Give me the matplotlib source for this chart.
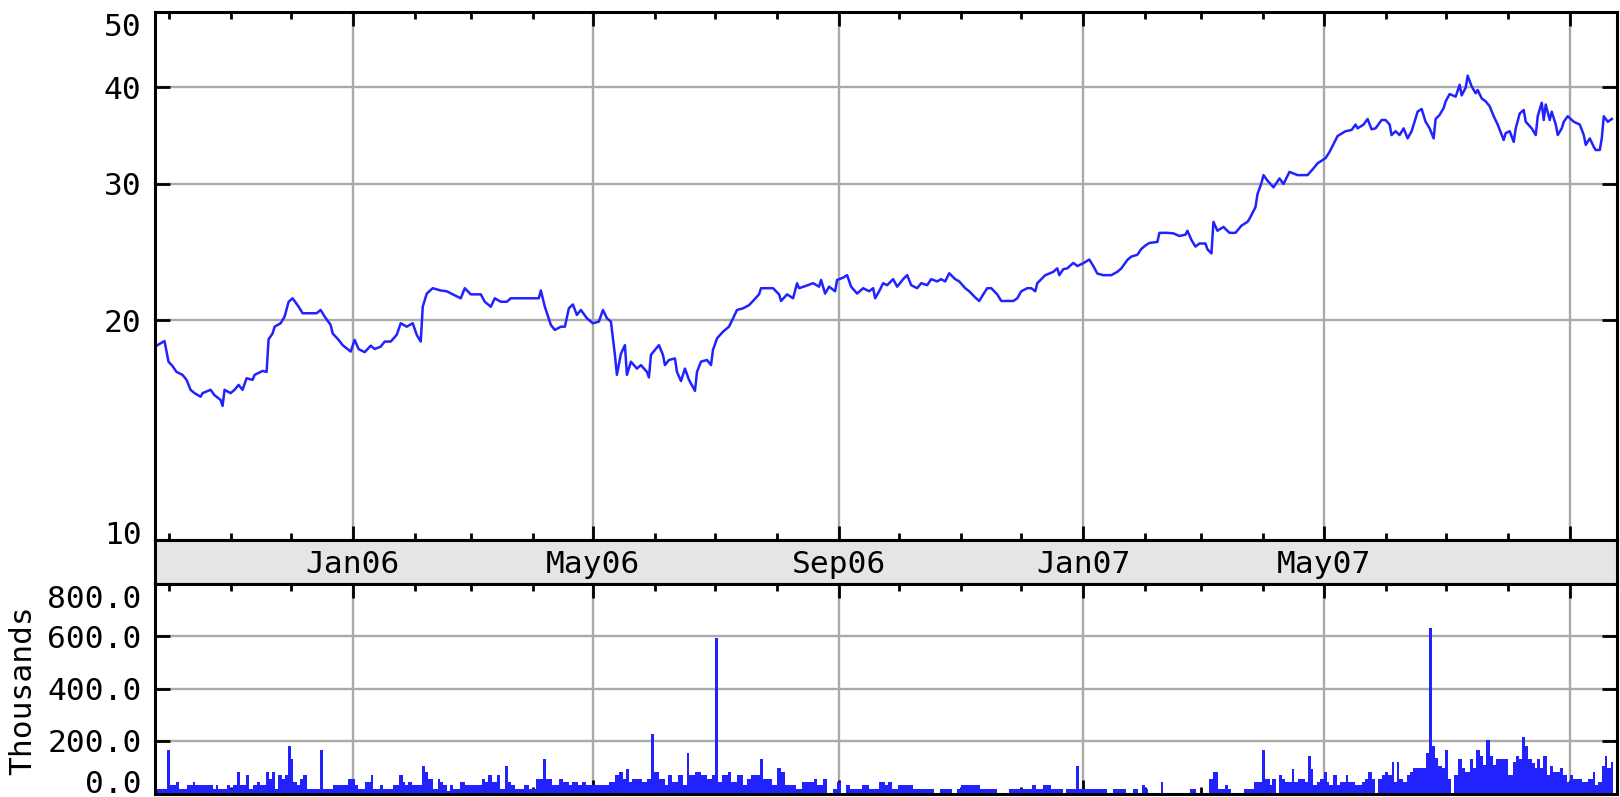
import numpy as np
import pandas as pd
import matplotlib
matplotlib.use('Agg')
import matplotlib.pyplot as plt
from matplotlib.ticker import NullLocator
from matplotlib.transforms import blended_transform_factory

plt.rcParams['font.family'] = ['DejaVu Sans Mono']

# price series: days counted from 2006-01-01
day = [-98, -94, -92, -90, -88, -85, -83, -81, -79, -76, -75, -71, -69, -66, -65, -64, -61, -59, -57, -55,
       -53, -50, -49, -45, -43, -42, -40, -39, -36, -34, -32, -30, -27, -25, -21, -18, -16, -14, -11, -10,
       -7, -5, -1, 1, 3, 6, 9, 11, 14, 16, 19, 22, 24, 27, 30, 32, 34, 35, 37, 40,
       44, 47, 50, 54, 56, 59, 64, 66, 69, 71, 74, 77, 79, 83, 93, 94, 96, 99, 101, 104,
       106, 108, 110, 112, 114, 117, 120, 123, 125, 127, 129, 131, 132, 134, 136, 137, 139, 142, 144, 147,
       148, 149, 151, 153, 155, 156, 158, 161, 162, 164, 166, 168, 171, 172, 174, 177, 179, 180, 182, 185,
       188, 190, 192, 195, 198, 200, 203, 204, 210, 213, 214, 217, 220, 222, 223, 227, 230, 233, 234, 236,
       238, 241, 242, 245, 247, 249, 252, 255, 258, 260, 261, 263, 265, 267, 270, 272, 275, 277, 279, 282,
       284, 287, 289, 292, 294, 296, 298, 301, 303, 306, 308, 311, 313, 315, 317, 319, 322, 324, 327, 330,
       332, 334, 337, 339, 341, 342, 344, 346, 348, 350, 352, 353, 355, 357, 360, 362, 365, 368, 370, 372,
       375, 379, 382, 384, 387, 389, 392, 394, 396, 398, 402, 403, 407, 410, 413, 416, 417, 419, 421, 423,
       426, 427, 429, 430, 432, 435, 438, 441, 444, 447, 448, 451, 452, 454, 455, 457, 459, 460, 463, 465,
       468, 472, 477, 480, 482, 486, 488, 490, 492, 496, 499, 501, 502, 505, 507, 509, 511, 514, 516, 518,
       519, 521, 523, 525, 527, 529, 531, 532, 534, 536, 538, 540, 541, 543, 545, 546, 548, 551, 553, 554,
       556, 557, 559, 561, 562, 564, 566, 568, 570, 572, 575, 576, 578, 580, 581, 583, 585, 586, 589, 591,
       592, 594, 595, 596, 598, 599, 601, 602, 604, 605, 607, 610, 613, 615, 616, 618, 620, 621, 623, 624,
       625, 627, 629]
price = [18.54, 18.80, 17.68, 17.45, 17.15, 17.00, 16.75, 16.26, 16.10, 15.93, 16.10, 16.26, 16.00, 15.78, 15.50, 16.26, 16.10, 16.26, 16.50, 16.26,
         16.83, 16.75, 17.00, 17.20, 17.15, 18.90, 19.23, 19.62, 19.82, 20.22, 21.13, 21.35, 20.82, 20.42, 20.42, 20.42, 20.62, 20.22, 19.72, 19.23,
         18.86, 18.57, 18.22, 18.86, 18.35, 18.19, 18.54, 18.36, 18.49, 18.77, 18.77, 19.15, 19.82, 19.62, 19.82, 19.15, 18.77, 20.82, 21.65, 22.00,
         21.85, 21.80, 21.60, 21.35, 22.00, 21.60, 21.60, 21.13, 20.82, 21.35, 21.13, 21.13, 21.35, 21.35, 21.35, 21.85, 20.82, 19.72, 19.43, 19.62,
         19.62, 20.72, 20.96, 20.32, 20.62, 20.12, 19.82, 19.92, 20.62, 20.12, 19.92, 18.04, 17.00, 18.10, 18.57, 17.00, 17.68, 17.32, 17.50, 17.15,
         16.87, 18.04, 18.31, 18.57, 18.04, 17.50, 17.77, 17.85, 17.15, 16.69, 17.32, 16.75, 16.21, 17.15, 17.68, 17.77, 17.50, 18.31, 18.95, 19.33,
         19.62, 20.12, 20.62, 20.72, 20.92, 21.18, 21.60, 22.00, 22.00, 21.60, 21.18, 21.60, 21.35, 22.33, 22.00, 22.18, 22.33, 22.10, 22.55, 21.65,
         22.10, 21.80, 22.55, 22.70, 22.87, 22.10, 21.65, 22.00, 21.80, 22.00, 21.35, 21.80, 22.33, 22.20, 22.60, 22.10, 22.60, 22.87, 22.20, 22.00,
         22.33, 22.20, 22.60, 22.45, 22.60, 22.45, 23.00, 22.60, 22.45, 22.00, 21.80, 21.40, 21.18, 21.60, 22.00, 22.00, 21.60, 21.18, 21.18, 21.18,
         21.35, 21.80, 22.00, 22.00, 21.80, 22.33, 22.60, 22.87, 22.98, 23.10, 23.34, 22.87, 23.28, 23.34, 23.72, 23.50, 23.70, 23.96, 23.50, 22.98,
         22.87, 22.87, 23.10, 23.34, 23.93, 24.17, 24.30, 24.73, 24.98, 25.17, 25.25, 25.94, 25.94, 25.90, 25.70, 25.80, 26.10, 25.40, 24.90, 25.13,
         25.13, 24.70, 24.40, 26.80, 26.10, 26.40, 25.94, 25.94, 26.50, 26.80, 27.05, 28.00, 29.10, 30.10, 30.80, 30.30, 29.90, 29.70, 30.50, 30.00,
         31.10, 30.80, 30.80, 31.43, 31.90, 32.40, 33.00, 33.80, 34.60, 35.10, 35.23, 35.80, 35.40, 35.80, 36.40, 35.30, 35.40, 36.29, 36.29, 35.80,
         34.70, 35.10, 34.70, 35.40, 34.36, 35.10, 36.50, 37.20, 37.50, 36.10, 35.40, 34.36, 36.40, 36.85, 37.60, 38.36, 39.20, 38.90, 40.30, 39.05,
         39.95, 41.40, 40.10, 39.30, 39.68, 38.70, 38.36, 37.80, 36.70, 35.80, 34.19, 34.90, 35.10, 34.00, 35.40, 37.00, 37.39, 36.10, 35.40, 34.70,
         36.70, 38.20, 36.29, 38.00, 36.29, 37.20, 35.80, 34.70, 35.40, 36.10, 36.70, 36.10, 35.80, 34.70, 33.70, 34.36, 33.50, 33.19, 33.19, 34.36,
         36.70, 36.10, 36.40]

# volume (thousands): each value holds from its start day to the next start day
vol_day = [-97.9, -92.6, -91.3, -88.3, -86.8, -82.9, -79.9, -78.8, -69.6, -68.3, -67.1, -62.9, -61.3, -59.6, -57.6, -56.3,
           -53.3, -51.6, -49.6, -48.0, -46.3, -43.3, -42.0, -40.5, -38.8, -37.2, -35.5, -33.8, -32.2, -31.0, -29.7, -28.0,
           -26.3, -24.7, -23.0, -16.3, -15.0, -9.7, -2.2, 1.1, 2.8, 6.1, 9.0, 10.3, 13.6, 15.3, 20.3, 23.3,
           25.0, 26.1, 27.8, 29.5, 34.6, 36.1, 37.8, 40.3, 42.5, 43.6, 45.3, 47.0, 48.6, 50.2, 53.6, 56.1,
           64.4, 66.1, 67.7, 69.4, 71.9, 73.6, 75.9, 77.4, 79.3, 81.2, 85.4, 87.9, 91.8, 95.0, 96.5, 99.4,
           103.2, 105.1, 108.0, 109.5, 112.8, 114.7, 116.6, 128.1, 130.9, 132.8, 134.8, 136.7, 138.0, 139.5, 144.3, 147.2,
           149.1, 150.4, 152.9, 155.8, 157.7, 159.6, 162.5, 164.9, 166.9, 168.2, 171.1, 173.9, 176.8, 179.7, 181.2, 182.5,
           184.5, 187.3, 189.2, 192.1, 195.0, 196.9, 198.8, 203.5, 205.1, 209.3, 212.2, 214.1, 216.0, 221.7, 224.6, 230.3,
           232.2, 235.1, 237.0, 239.9, 241.8, 243.7, 246.6, 248.5, 254.2, 258.0, 262.8, 265.7, 267.6, 269.5, 272.4, 280.0,
           290.6, 293.4, 299.2, 302.0, 304.0, 313.5, 322.1, 327.8, 339.3, 341.2, 345.0, 348.8, 354.6, 356.5, 361.3, 362.6,
           373.3, 376.6, 379.9, 386.3, 389.9, 392.4, 394.1, 395.8, 397.4, 403.7, 404.9, 418.2, 421.2, 427.9, 429.6, 432.4,
           435.7, 437.1, 438.6, 445.2, 450.2, 454.5, 455.8, 458.2, 459.5, 461.2, 462.7, 464.0, 465.7, 469.0, 470.3, 472.3,
           475.7, 477.3, 478.5, 479.8, 481.5, 483.2, 485.2, 486.5, 487.8, 489.8, 491.5, 493.2, 496.2, 497.3, 500.6, 504.0,
           505.6, 507.3, 509.0, 510.6, 512.0, 514.0, 515.6, 517.3, 519.0, 520.1, 521.5, 522.8, 524.8, 526.5, 528.1, 529.5,
           536.1, 537.8, 539.0, 540.6, 542.3, 544.0, 545.6, 547.3, 548.6, 550.1, 552.3, 554.0, 555.6, 558.1, 559.7, 561.4,
           563.1, 564.7, 566.4, 568.1, 569.7, 571.4, 577.2, 579.4, 581.1, 582.7, 583.9, 585.6, 587.2, 588.9, 590.6, 591.4,
           593.1, 594.7, 596.4, 598.1, 599.7, 603.1, 604.7, 606.4, 608.1, 609.7, 613.9, 617.2, 619.4, 620.6, 622.3, 624.0,
           625.6, 626.8, 628.5]
vol_end = 629.8
vol_k = [19, 165, 32, 45, 19, 32, 45, 32, 19, 32, 19, 32, 19, 32, 83, 32,
         70, 19, 32, 45, 32, 83, 57, 83, 19, 70, 57, 70, 181, 130, 45, 32,
         57, 70, 19, 165, 19, 32, 57, 32, 19, 45, 70, 19, 32, 19, 32, 70,
         45, 32, 45, 32, 104, 83, 57, 19, 57, 45, 32, 10, 32, 19, 45, 32,
         57, 45, 70, 45, 70, 19, 104, 45, 32, 19, 32, 19, 57, 130, 57, 32,
         57, 45, 32, 45, 32, 45, 32, 45, 70, 83, 57, 92, 45, 57, 45, 57,
         226, 83, 57, 32, 70, 45, 70, 32, 153, 70, 83, 70, 57, 70, 592, 45,
         70, 83, 45, 70, 32, 57, 70, 130, 57, 32, 96, 83, 32, 19, 45, 57,
         32, 57, 0, 19, 45, 0, 32, 19, 32, 19, 45, 32, 45, 19, 32, 19,
         0, 19, 0, 19, 32, 19, 0, 19, 32, 19, 32, 19, 0, 19, 104, 19,
         19, 0, 19, 0, 19, 0, 32, 19, 0, 45, 0, 19, 0, 57, 83, 19,
         32, 19, 0, 19, 45, 165, 57, 32, 57, 0, 70, 57, 45, 92, 45, 57,
         45, 143, 92, 32, 45, 57, 83, 45, 32, 70, 32, 45, 70, 45, 32, 45,
         57, 83, 57, 0, 57, 70, 83, 70, 121, 45, 121, 57, 45, 70, 83, 96,
         153, 629, 181, 134, 104, 96, 165, 57, 0, 70, 130, 96, 83, 130, 96, 165,
         143, 108, 203, 143, 108, 130, 70, 121, 143, 130, 214, 181, 130, 118, 96, 130,
         96, 143, 70, 104, 83, 96, 70, 45, 70, 57, 45, 57, 83, 32, 45, 104,
         143, 96, 121]

blue = '#2222ff'
gridcol = '#aaaaaa'
fs = 22.5

base = pd.Timestamp('2006-01-01')
months = pd.date_range('2005-10-01', '2007-09-01', freq='MS')
major = [m for m in months if m.month in (1, 5, 9)]
minor = [m for m in months if m.month not in (1, 5, 9)]
major_d = [(m - base).days for m in major]
minor_d = [(m - base).days for m in minor]
major_lab = [m.strftime('%b%y') for m in major[:-1]]

W, H = 1620., 797.
def box(l, t, r, b):
    return [l / W, 1 - b / H, (r - l) / W, (b - t) / H]

fig = plt.figure(figsize=(16.2, 7.97), dpi=100)
ax1 = fig.add_axes(box(155, 12.3, 1617, 540))
ax0 = fig.add_axes(box(155, 540, 1617, 583.5))
ax2 = fig.add_axes(box(155, 583.5, 1617, 793.5))

ax1.plot(day, price, color=blue, lw=1.8)
ax1.set_yscale('log')
ax1.set_ylim(10.4, 50)
ax1.set_yticks([20, 30, 40], labels=['20', '30', '40'])
ax1.yaxis.set_minor_locator(NullLocator())

ax2.stairs(vol_k, vol_day + [vol_end], fill=True, color=blue, lw=0)
ax2.set_ylim(0, 800)
ax2.set_yticks([200, 400, 600], labels=['200.0', '400.0', '600.0'])

for ax in (ax1, ax2):
    ax.set_xlim(-98.75, 631.6)
    ax.set_xticks(major_d)
    ax.set_xticks(minor_d, minor=True)
    ax.tick_params(axis='x', which='both', labelbottom=False, top=True, bottom=True,
                   direction='in', width=2)
    ax.tick_params(axis='x', which='major', length=9.8)
    ax.tick_params(axis='x', which='minor', length=5)
    ax.tick_params(axis='y', which='major', left=True, right=True, direction='in',
                   length=10.5, width=2, labelsize=fs, pad=9.6)
    ax.grid(True, which='major', color=gridcol, lw=1.7)
    ax.set_axisbelow(True)
    for s in ax.spines.values():
        s.set_linewidth(2.2)

# labels sitting at the panel edges are pulled inward
def edge_label(ax, y, txt, dy):
    ax.annotate(txt, xy=(0, y), xycoords=('axes fraction', 'data'), xytext=(-13.3, dy),
                textcoords='offset pixels', ha='right', va='center_baseline',
                fontsize=fs, annotation_clip=False)

edge_label(ax1, 50, '50', -12.7)
edge_label(ax1, 10.4, '10', 7)
edge_label(ax2, 800, '800.0', -13.5)
edge_label(ax2, 0, '0.0', 12)

ax0.set_facecolor('#e5e5e5')
ax0.set_xlim(-98.75, 631.6)
ax0.set_xticks([])
ax0.set_yticks([])
for s in ax0.spines.values():
    s.set_linewidth(2.2)
tr = blended_transform_factory(ax0.transData, ax0.transAxes)
for d, lab in zip(major_d, major_lab):
    ax0.text(d, 0.5, lab, transform=tr, ha='center', va='center_baseline', fontsize=fs)

fig.text(23 / W, 1 - 690 / H, 'Thousands', rotation=90, ha='center', va='center', fontsize=fs)

fig.savefig('out.png', dpi=100)
